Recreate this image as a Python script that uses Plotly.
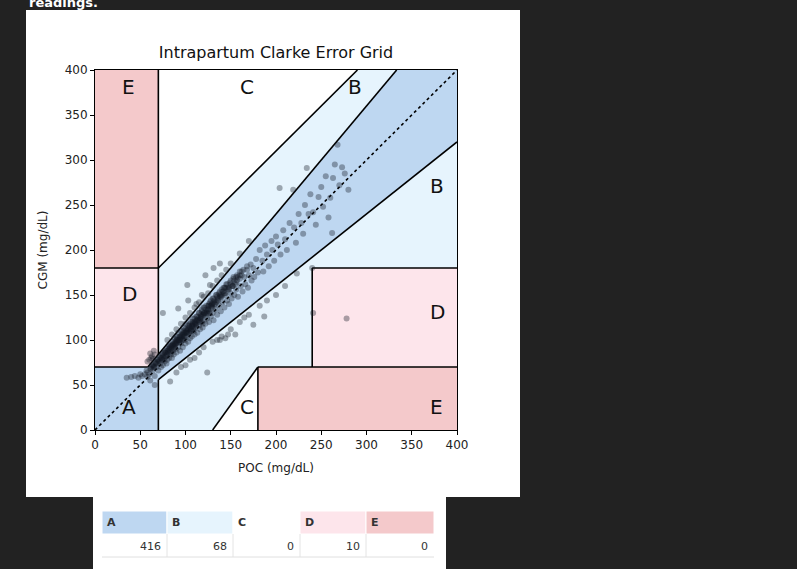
import plotly.graph_objects as go

# ---------------- data ----------------
zones = ["A", "B", "C", "D", "E"]
zone_counts = [416, 68, 0, 10, 0]
tick_vals = [0, 50, 100, 150, 200, 250, 300, 350, 400]

# paired readings (POC, CGM)
poc = [
    # A box (both < 70)
    35, 40, 44, 48, 50, 52, 55, 57, 58, 61, 66,
    # dense band
    60, 62, 64, 65, 66, 67, 68, 70, 70, 72, 72, 73, 74, 75, 75, 76, 77, 78, 78, 79,
    80, 80, 80, 81, 82, 82, 83, 84, 85, 85, 86, 86, 87, 88, 88, 89, 90, 90, 90, 91,
    92, 92, 93, 94, 94, 95, 95, 96, 97, 98, 98, 99, 100, 100, 100, 101, 102, 103, 104, 104,
    105, 106, 106, 107, 108, 108, 109, 110, 110, 111, 112, 112, 113, 114, 115, 115, 116, 117, 118, 118,
    119, 120, 120, 121, 122, 123, 124, 125, 126, 126, 127, 128, 129, 130, 130, 131, 132, 133, 134, 135,
    136, 137, 138, 139, 140, 141, 142, 143, 144, 145, 146, 147, 148, 150, 150, 151, 152, 153, 154, 155,
    156, 157, 158, 160, 161, 162, 163, 165, 166, 168, 169, 170, 172, 173, 175, 176,
    # extra density in the core
    85, 88, 92, 96, 99, 102, 105, 108, 111, 114, 117, 120, 123, 126, 129, 132, 135, 138, 141, 144,
    78, 82, 86, 90, 94, 98, 103, 107, 112, 116, 121, 125, 130, 134, 139, 143, 148, 152, 157, 162,
    62, 65, 67, 70, 72, 75, 77, 80, 82, 84, 87, 89, 91, 94, 96, 98, 100, 103, 105, 108,
    110, 113, 115, 118, 120, 123, 126, 128, 131, 134, 137, 140, 143, 146, 149, 153, 156, 160, 164, 168,
    88, 93, 97, 101, 106, 111, 116, 119, 124, 129, 64, 69, 74, 79, 84, 89, 94, 99, 104, 109,
    58, 61, 63, 66, 68, 69, 71, 73, 74, 76, 77, 79, 81, 83, 84, 86, 87, 89, 91, 93,
    95, 96, 97, 99, 101, 102, 104, 106, 107, 109, 110, 112, 113, 115, 117, 118, 119, 121, 122, 124,
    125, 127, 128, 130, 131, 133, 135, 136, 138, 140, 142, 144, 146, 148, 150, 152, 154, 156, 158, 160,
    # sparser upper band
    178, 180, 182, 185, 186, 188, 190, 192, 195, 196, 198, 200, 202, 205, 208, 210, 212, 215, 220, 222,
    225, 228, 230, 232, 236, 238, 241, 244, 247, 250, 252, 255, 258, 260, 262, 263, 265, 268, 270, 273,
    276, 280,
    # upper B
    75, 92, 103, 102, 122, 138, 80, 85, 90, 95, 100, 105, 110, 115, 120, 125, 130, 135, 140, 145,
    150, 160, 170, 127, 131, 219, 234, 204, 118, 112,
    # lower B
    124, 83, 144, 138, 155, 175, 147, 187, 190, 223, 95, 105, 115, 120, 130, 160, 170, 200, 210, 165,
    110, 140, 150, 182, 240, 100, 90, 135,
    # D
    241, 278, 60, 62, 64, 63, 66, 58, 61, 65,
]
cgm = [
    # A box
    58, 59, 60, 58, 62, 60, 62, 66, 59, 55, 50,
    # dense band
    62, 70, 66, 72, 60, 75, 70, 78, 66, 74, 82, 70, 78, 85, 72, 80, 76, 88, 82, 74,
    84, 90, 78, 86, 80, 94, 88, 84, 92, 80, 98, 88, 84, 94, 102, 90, 96, 86, 104, 100,
    92, 108, 98, 88, 104, 96, 110, 102, 92, 106, 114, 100, 96, 108, 118, 104, 112, 98, 116, 108,
    102, 120, 112, 104, 116, 124, 110, 106, 120, 114, 126, 118, 108, 122, 116, 130, 112, 126, 120, 134,
    114, 128, 122, 136, 118, 130, 124, 138, 120, 132, 142, 126, 136, 130, 146, 122, 140, 134, 150, 128,
    144, 138, 154, 132, 148, 142, 158, 136, 150, 162, 144, 156, 140, 166, 152, 146, 160, 170, 150, 162,
    156, 172, 148, 168, 160, 176, 154, 170, 162, 178, 158, 172, 184, 166, 180, 170,
    # extra density
    94, 96, 100, 104, 108, 110, 114, 118, 120, 124, 128, 130, 134, 138, 140, 144, 148, 150, 154, 158,
    86, 92, 95, 100, 102, 108, 112, 115, 122, 124, 130, 134, 140, 142, 148, 152, 158, 160, 166, 172,
    68, 70, 74, 76, 80, 82, 86, 88, 90, 94, 96, 98, 102, 104, 106, 110, 112, 116, 118, 120,
    124, 126, 130, 132, 136, 138, 140, 144, 146, 150, 152, 156, 158, 162, 164, 168, 170, 176, 178, 182,
    92, 98, 100, 108, 110, 118, 122, 128, 130, 138, 72, 76, 80, 84, 90, 96, 100, 104, 108, 114,
    64, 68, 72, 70, 74, 78, 76, 80, 84, 78, 86, 82, 88, 92, 86, 94, 90, 96, 98, 100,
    104, 100, 106, 104, 110, 108, 114, 110, 116, 112, 118, 116, 122, 120, 124, 126, 118, 130, 128, 132,
    134, 130, 138, 136, 142, 140, 144, 146, 148, 150, 154, 152, 158, 156, 162, 160, 166, 164, 170, 172,
    # sparser upper band
    190, 175, 200, 188, 176, 205, 195, 182, 210, 200, 188, 215, 206, 195, 222, 212, 200, 230, 225, 208,
    240, 230, 218, 250, 240, 262, 242, 228, 259, 270, 248, 282, 236, 258, 219, 280, 295, 317, 272, 292,
    285, 267,
    # upper B
    130, 135, 144, 161, 172, 185, 100, 106, 112, 118, 125, 130, 136, 142, 148, 152, 160, 166, 172, 178,
    185, 196, 210, 161, 180, 267, 291, 269, 150, 140,
    # lower B
    64, 54, 102, 100, 106, 117, 106, 126, 144, 174, 70, 78, 86, 92, 98, 120, 128, 150, 160, 125,
    80, 104, 112, 138, 180, 72, 64, 100,
    # D
    130, 124, 78, 80, 79, 82, 84, 76, 85, 88,
]
assert len(poc) == len(cgm), (len(poc), len(cgm))

# ---------------- layout helpers ----------------
W, H = 797, 569
L, R, T, B = 95, 457, 70, 430  # plot area in pixels


def px(x):
    return (x - L) / (R - L)


def py(y):
    return (B - y) / (B - T)


C_A = "#bed7f1"
C_B = "#e6f4fd"
C_D = "#fde5eb"
C_E = "#f4c9cb"

fig = go.Figure()

# zone fills
polys = [
    ([0, 0, 175 / 3, 1000 / 3, 400, 400, 70, 70], [0, 70, 70, 400, 400, 320, 56, 0], C_A),
    ([70, 70, 290, 1000 / 3], [84, 180, 400, 400], C_B),
    ([70, 70, 400, 400, 240, 240, 180, 130], [0, 56, 320, 180, 180, 70, 70, 0], C_B),
    ([0, 0, 70, 70, 175 / 3], [70, 180, 180, 84, 70], C_D),
    ([240, 240, 400, 400], [70, 180, 180, 70], C_D),
    ([0, 0, 70, 70], [180, 400, 400, 180], C_E),
    ([180, 180, 400, 400], [0, 70, 70, 0], C_E),
]
for xs, ys, col in polys:
    fig.add_trace(go.Scatter(x=xs + [xs[0]], y=ys + [ys[0]], fill="toself", fillcolor=col,
                             mode="none", hoverinfo="skip", showlegend=False))

# boundary lines
segments = [
    ([0, 175 / 3], [70, 70]),
    ([175 / 3, 1000 / 3], [70, 400]),
    ([70, 70], [84, 400]),
    ([0, 70], [180, 180]),
    ([70, 290], [180, 400]),
    ([70, 70], [0, 56]),
    ([70, 400], [56, 320]),
    ([180, 180], [0, 70]),
    ([180, 400], [70, 70]),
    ([240, 240], [70, 180]),
    ([240, 400], [180, 180]),
    ([130, 180], [0, 70]),
]
for xs, ys in segments:
    fig.add_trace(go.Scatter(x=xs, y=ys, mode="lines", line=dict(color="black", width=1.6),
                             hoverinfo="skip", showlegend=False))

fig.add_trace(go.Scatter(x=[0, 400], y=[0, 400], mode="lines",
                         line=dict(color="black", width=1.6, dash="dot"),
                         hoverinfo="skip", showlegend=False))

# readings
fig.add_trace(go.Scatter(x=poc, y=cgm, mode="markers",
                         marker=dict(size=6, color="rgba(20,25,35,0.36)", line=dict(width=0)),
                         showlegend=False))

# zone letters (bottom-left anchored)
letters = [(30, 15, "A"), (370, 260, "B"), (280, 370, "B"), (160, 370, "C"), (160, 15, "C"),
           (30, 140, "D"), (370, 120, "D"), (30, 370, "E"), (370, 15, "E")]
for lx, ly, t in letters:
    fig.add_annotation(x=lx, y=ly, text=t, showarrow=False, xanchor="left", yanchor="bottom",
                       xshift=-2, yshift=-4,
                       font=dict(family="DejaVu Sans", size=20, color="#111"))

shapes = []
# white page panels
shapes.append(dict(type="rect", xref="paper", yref="paper", x0=px(26), x1=px(520), y0=py(497), y1=py(10),
                   fillcolor="white", line=dict(width=0), layer="below"))
shapes.append(dict(type="rect", xref="paper", yref="paper", x0=px(93), x1=px(446), y0=py(569), y1=py(497),
                   fillcolor="white", line=dict(width=0), layer="below"))

# summary table
col_edges = [102, 167, 233, 300, 366, 434]
hdr_cols = [C_A, C_B, "white", C_D, C_E]
for i, z in enumerate(zones):
    x0, x1 = col_edges[i], col_edges[i + 1]
    shapes.append(dict(type="rect", xref="paper", yref="paper", x0=px(x0), x1=px(x1),
                       y0=py(534), y1=py(511), fillcolor=hdr_cols[i],
                       line=dict(color="white", width=1), layer="above"))
    fig.add_annotation(xref="paper", yref="paper", x=px(x0 + 3), y=py(522.5), text="<b>" + z + "</b>",
                       showarrow=False, xanchor="left", yanchor="middle",
                       font=dict(family="DejaVu Sans", size=11, color="#333"))
    fig.add_annotation(xref="paper", yref="paper", x=px(x1 - 4), y=py(546), text=str(zone_counts[i]),
                       showarrow=False, xanchor="right", yanchor="middle",
                       font=dict(family="DejaVu Sans", size=11, color="#333"))
    if i > 0:
        shapes.append(dict(type="line", xref="paper", yref="paper", x0=px(x0), x1=px(x0),
                           y0=py(557), y1=py(534), line=dict(color="#e4e4e4", width=1), layer="above"))
shapes.append(dict(type="line", xref="paper", yref="paper", x0=px(102), x1=px(434),
                   y0=py(557), y1=py(557), line=dict(color="#e0e0e0", width=1), layer="above"))

# cut-off caption text at the very top
fig.add_annotation(xref="paper", yref="paper", x=px(27), y=py(2), text="<b>readings.</b>",
                   showarrow=False, xanchor="left", yanchor="middle",
                   font=dict(family="DejaVu Sans", size=13, color="white"))

axis_common = dict(range=[0, 400], tickvals=tick_vals, ticks="outside", ticklen=4, tickwidth=1,
                   tickcolor="black", showline=True, linecolor="black", linewidth=1, mirror=True,
                   showgrid=False, zeroline=False, tickfont=dict(family="DejaVu Sans", size=12, color="#222"))

fig.update_layout(
    width=W, height=H,
    margin=dict(l=L, r=W - R, t=T, b=H - B, autoexpand=False),
    paper_bgcolor="#222222", plot_bgcolor="white",
    shapes=shapes,
    title=dict(text="Intrapartum Clarke Error Grid", x=px(276), xanchor="center", xref="paper",
               y=1 - 52 / H, yanchor="middle",
               font=dict(family="DejaVu Sans", size=16, color="#111")),
    xaxis=dict(axis_common, title=dict(text="POC (mg/dL)", standoff=12,
                                       font=dict(family="DejaVu Sans", size=12, color="#222"))),
    yaxis=dict(axis_common, title=dict(text="CGM (mg/dL)", standoff=14,
                                       font=dict(family="DejaVu Sans", size=12, color="#222"))),
)

fig.write_html("out.html", config={"displayModeBar": False},
               post_script="document.body.style.margin='0';document.body.style.background='#222222';")
